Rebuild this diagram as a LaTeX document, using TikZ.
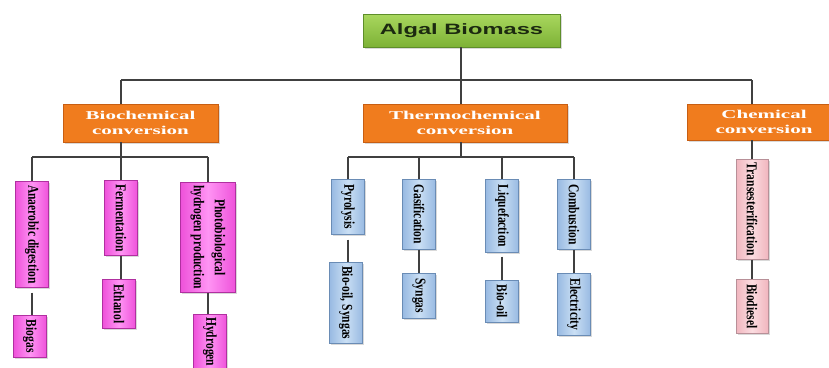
\documentclass[tikz,border=0pt]{standalone}
\usepackage{fontspec}
\setmainfont{Liberation Serif}
\newfontfamily\headfont{Liberation Sans}
\usepackage{graphicx}
\usetikzlibrary{shadows,positioning}

% colours
\definecolor{algalTop}{HTML}{A9D75E}
\definecolor{algalBot}{HTML}{7DB236}
\definecolor{algalEdge}{HTML}{5E8E2A}
\definecolor{algalText}{HTML}{1C2A10}
\definecolor{routeFill}{HTML}{F07C1E}
\definecolor{routeEdge}{HTML}{C85E12}
\definecolor{bioSide}{HTML}{EE52DA}
\definecolor{bioMid}{HTML}{FF94F4}
\definecolor{bioEdge}{HTML}{B030A0}
\definecolor{thermoSide}{HTML}{98BAE2}
\definecolor{thermoMid}{HTML}{CADFF4}
\definecolor{thermoEdge}{HTML}{6A8CB5}
\definecolor{chemSide}{HTML}{F1B6BF}
\definecolor{chemMid}{HTML}{FBDCE0}
\definecolor{chemEdge}{HTML}{B89098}
\definecolor{linkGray}{HTML}{404040}

% squeezed / stretched labels
\newcommand{\vtext}[1]{\rotatebox{-90}{\scalebox{0.77}[1]{#1}}}
\newcommand{\widetext}[1]{\scalebox{1.75}[1]{#1}}

\tikzset{
  box/.style={draw, line width=0.6pt, inner sep=0pt,
    drop shadow={shadow xshift=1.5pt, shadow yshift=-1.5pt, opacity=0.3}},
  rootbox/.style={box, draw=algalEdge, top color=algalTop, bottom color=algalBot,
    minimum width=197pt, minimum height=33pt, text=algalText,
    font=\headfont\fontsize{15}{18}\selectfont\bfseries},
  routebox/.style={box, draw=routeEdge, fill=routeFill, minimum height=38pt,
    text=white, align=center, font=\fontsize{12}{15}\selectfont\bfseries},
  leafbox/.style={box, anchor=north, minimum width=33pt,
    font=\fontsize{15}{18}\selectfont\bfseries},
  biobox/.style={leafbox, draw=bioEdge, left color=bioSide, right color=bioSide, middle color=bioMid},
  thermobox/.style={leafbox, draw=thermoEdge, left color=thermoSide, right color=thermoSide, middle color=thermoMid},
  chembox/.style={leafbox, draw=chemEdge, left color=chemSide, right color=chemSide, middle color=chemMid},
  link/.style={draw=linkGray, line width=1.1pt},
}

\begin{document}
\begin{tikzpicture}[x=1pt,y=-1pt]
  \useasboundingbox (0,0) rectangle (829,367);

  % Root and the three routes
  \node[rootbox] (root) at (461.5,30.5) {\scalebox{1.58}[1]{Algal Biomass}};
  \node[routebox, minimum width=155pt] (bio) at (140.5,123) {\widetext{Biochemical}\\\widetext{conversion}};
  \node[routebox, minimum width=204pt] (thermo) at (465,123) {\widetext{Thermochemical}\\\widetext{conversion}};
  \node[routebox, minimum width=154pt, minimum height=36pt] (chem) at (764,122) {\widetext{Chemical}\\\widetext{conversion}};

  % Main bus
  \coordinate (bio-stem) at (121,80);
  \coordinate (thermo-stem) at (461,80);
  \coordinate (chem-stem) at (752,80);
  \coordinate (subbus) at (0,157);
  \draw[link] (root.south -| thermo-stem) -- (thermo-stem);
  \draw[link] (bio-stem) -- (chem-stem);
  \foreach \g in {bio,thermo,chem}
    \draw[link] (\g-stem) -- (\g-stem |- \g.north);

  % Biochemical branch
  \node[biobox, minimum height=106pt] (anaer) at (32,181) {\vtext{Anaerobic digestion}};
  \node[biobox, minimum height=75pt] (ferm) at (121,180) {\vtext{Fermentation}};
  \node[biobox, minimum width=55pt, minimum height=110pt] (photo) at (208,182)
    {\vtext{\begin{tabular}{@{}c@{}}Photobiological\\[3pt]hydrogen production\end{tabular}}};
  \node[biobox, minimum height=42pt] (biogas) at (30,315) {\vtext{Biogas}};
  \node[biobox, minimum height=49pt] (ethanol) at (119,279) {\vtext{Ethanol}};
  \node[biobox, minimum height=55pt] (hydrogen) at (210,314) {\vtext{Hydrogen}};

  \draw[link] (bio-stem |- bio.south) -- (bio-stem |- subbus);
  \draw[link] (anaer.north |- subbus) -- (photo.north |- subbus);
  \foreach \c in {anaer,ferm,photo}
    \draw[link] (\c.north) -- (\c.north |- subbus);
  \draw[link, shorten <=5pt] (anaer.south) -- (anaer.south |- biogas.north);
  \draw[link] (ferm.south) -- (ferm.south |- ethanol.north);
  \draw[link] (photo.south) -- (photo.south |- hydrogen.north);

  % Thermochemical branch
  \foreach \n/\x/\h/\t in {pyro/348/55/Pyrolysis, gasif/419/70/Gasification,
                           liq/502/73/Liquefaction, comb/574/70/Combustion}
    \node[thermobox, minimum height=\h pt] (\n) at (\x,179) {\vtext{\t}};
  \foreach \n/\x/\y/\h/\t in {biosyn/346/262/81/{Bio-oil, Syngas}, syngas/419/273/45/Syngas,
                              biooil/502/280/42/Bio-oil, elec/574/273/62/Electricity}
    \node[thermobox, minimum height=\h pt] (\n) at (\x,\y) {\vtext{\t}};

  \draw[link] (thermo-stem |- thermo.south) -- (thermo-stem |- subbus);
  \draw[link] (pyro.north |- subbus) -- (comb.north |- subbus);
  \foreach \c in {pyro,gasif,liq,comb}
    \draw[link] (\c.north) -- (\c.north |- subbus);
  \draw[link, shorten <=5pt] (pyro.south) -- (pyro.south |- biosyn.north);
  \draw[link] (gasif.south) -- (gasif.south |- syngas.north);
  \draw[link, shorten <=4pt] (liq.south) -- (liq.south |- biooil.north);
  \draw[link] (comb.south) -- (comb.south |- elec.north);

  % Chemical branch
  \node[chembox, minimum width=32pt, minimum height=100pt] (trans) at (752,159) {\vtext{Transesterification}};
  \node[chembox, minimum width=32pt, minimum height=54pt] (biodiesel) at (752,279) {\vtext{Biodiesel}};
  \draw[link] (chem-stem |- chem.south) -- (trans.north);
  \draw[link] (trans.south) -- (biodiesel.north);

\end{tikzpicture}
\end{document}
